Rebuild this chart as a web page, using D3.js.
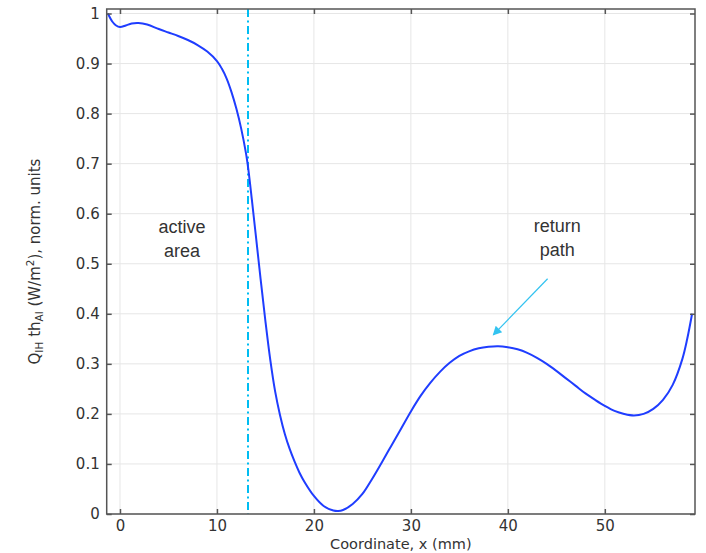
<!DOCTYPE html>
<html>
<head>
<meta charset="utf-8">
<script src="https://cdn.jsdelivr.net/npm/d3@7"></script>
<style>
  html, body { margin: 0; padding: 0; background: #fff; }
  svg { display: block; }
</style>
</head>
<body>
<svg id="chart" width="706" height="553"></svg>
<script>
// Normalised induction-heating profile along the coordinate x
const xValues = [-1.24, -0.8, -0.4, 0, 0.6, 1.2, 1.9, 2.8, 4, 5, 6, 7, 8, 9, 10, 10.5, 11, 11.5, 12, 12.5, 13, 13.24, 13.6,
  14.0, 14.5, 15.0, 15.5, 16.0, 16.5, 17.0, 17.5, 18.0, 18.5, 19, 20, 21, 22, 22.5, 23, 24, 25, 26, 27, 28, 29,
  30, 31, 32, 33, 34, 35, 36, 37, 38, 39, 40, 41, 42, 43, 44, 45, 46, 47, 48, 49, 50, 51, 52, 53, 54, 55, 56, 57, 58, 58.5, 59.0];
const qValues = [1.0, 0.984, 0.976, 0.973, 0.976, 0.98, 0.981, 0.978, 0.969, 0.962, 0.955, 0.947, 0.937, 0.924, 0.905, 0.89, 0.87, 0.843, 0.81, 0.77, 0.72, 0.688, 0.628,
  0.558, 0.47, 0.385, 0.308, 0.245, 0.198, 0.16, 0.13, 0.105, 0.083, 0.065, 0.036, 0.016, 0.007, 0.006, 0.008, 0.02, 0.04, 0.07, 0.103, 0.137, 0.171,
  0.205, 0.236, 0.262, 0.284, 0.302, 0.316, 0.325, 0.331, 0.334, 0.335, 0.333, 0.329, 0.322, 0.312, 0.3, 0.286, 0.271, 0.256, 0.241, 0.228, 0.216, 0.206, 0.2, 0.197, 0.2, 0.21, 0.228, 0.258, 0.31, 0.35, 0.4];

const xTicks = [0, 10, 20, 30, 40, 50];
const yTicks = [0, 0.1, 0.2, 0.3, 0.4, 0.5, 0.6, 0.7, 0.8, 0.9, 1];
const yTickLabels = ["0", "0.1", "0.2", "0.3", "0.4", "0.5", "0.6", "0.7", "0.8", "0.9", "1"];
const boundaryX = [13.2];           // edge of the active area
const annotations = [
  { lines: ["active", "area"], x: 6.4, y: 0.562 },
  { lines: ["return", "path"], x: 45.1, y: 0.564 }
];
const arrow = { from: [44.1, 0.47], to: [38.5, 0.358] };

const xDomain = [-1.37, 59.3];
const yDomain = [0, 1.009];

const margin = { left: 106.7, right: 11, top: 9, bottom: 39 };
const W = 706, H = 553;
const svg = d3.select("#chart");
const pw = W - margin.left - margin.right;
const ph = H - margin.top - margin.bottom;

const x = d3.scaleLinear().domain(xDomain).range([0, pw]);
const y = d3.scaleLinear().domain(yDomain).range([ph, 0]);

const g = svg.append("g").attr("transform", `translate(${margin.left},${margin.top})`);

// grid
g.append("g").selectAll("line").data(xTicks).join("line")
  .attr("x1", d => x(d)).attr("x2", d => x(d)).attr("y1", 0).attr("y2", ph)
  .attr("stroke", "#e6e6e6").attr("stroke-width", 1);
g.append("g").selectAll("line").data(yTicks).join("line")
  .attr("y1", d => y(d)).attr("y2", d => y(d)).attr("x1", 0).attr("x2", pw)
  .attr("stroke", "#e6e6e6").attr("stroke-width", 1);

// clip for data
svg.append("defs").append("clipPath").attr("id", "plotclip")
  .append("rect").attr("width", pw).attr("height", ph);

// boundary line (dash-dot)
g.append("g").attr("clip-path", "url(#plotclip)").selectAll("line").data(boundaryX).join("line")
  .attr("x1", d => x(d)).attr("x2", d => x(d)).attr("y1", 0).attr("y2", ph)
  .attr("stroke", "#00bdf2").attr("stroke-width", 2)
  .attr("stroke-dasharray", "8,3.5,2,3.5");

// data curve
const pts = xValues.map((v, i) => [v, qValues[i]]);
const line = d3.line().x(d => x(d[0])).y(d => y(d[1])).curve(d3.curveCatmullRom.alpha(0.5));
g.append("path").datum(pts).attr("clip-path", "url(#plotclip)")
  .attr("d", line).attr("fill", "none")
  .attr("stroke", "#1f3dff").attr("stroke-width", 2);

// axes
const axisColor = "#555";
const xAxis = g.append("g").attr("transform", `translate(0,${ph})`)
  .call(d3.axisBottom(x).tickValues(xTicks).tickSizeInner(-5).tickSizeOuter(0).tickPadding(6));
const xTop = g.append("g")
  .call(d3.axisTop(x).tickValues(xTicks).tickSizeInner(-5).tickSizeOuter(0).tickFormat(""));
const yAxis = g.append("g")
  .call(d3.axisLeft(y).tickValues(yTicks).tickFormat((d, i) => yTickLabels[i]).tickSizeInner(-5).tickSizeOuter(0).tickPadding(7));
const yRight = g.append("g").attr("transform", `translate(${pw},0)`)
  .call(d3.axisRight(y).tickValues(yTicks).tickSizeInner(-5).tickSizeOuter(0).tickFormat(""));

[xAxis, xTop, yAxis, yRight].forEach(a => {
  a.select(".domain").remove();
  a.selectAll(".tick line").attr("stroke", axisColor).attr("stroke-width", 1.5);
  a.selectAll("text").attr("fill", "#333").style("font-family", "DejaVu Sans, sans-serif").style("font-size", "15px");
});

// frame
g.append("rect").attr("width", pw).attr("height", ph)
  .attr("fill", "none").attr("stroke", axisColor).attr("stroke-width", 1.5);

// axis titles
svg.append("text").attr("x", margin.left + pw / 2).attr("y", 548.5)
  .attr("text-anchor", "middle").attr("fill", "#333")
  .style("font-family", "DejaVu Sans, sans-serif").style("font-size", "14.5px")
  .text("Coordinate, x (mm)");

const yt = svg.append("text")
  .attr("transform", `translate(40,${margin.top + ph / 2}) rotate(-90)`)
  .attr("text-anchor", "middle").attr("fill", "#333")
  .style("font-family", "DejaVu Sans, sans-serif").style("font-size", "15px");
yt.append("tspan").text("Q");
yt.append("tspan").attr("baseline-shift", "-25%").style("font-size", "10.5px").text("IH");
yt.append("tspan").text(" th");
yt.append("tspan").attr("baseline-shift", "-25%").style("font-size", "10.5px").text("Al");
yt.append("tspan").text(" (W/m");
yt.append("tspan").attr("baseline-shift", "super").style("font-size", "10.5px").text("2");
yt.append("tspan").text("), norm. units");

// annotations
annotations.forEach(a => {
  const t = g.append("text").attr("text-anchor", "middle").attr("fill", "#333")
    .style("font-family", "Liberation Sans, Arial, sans-serif").style("font-size", "18px");
  a.lines.forEach((l, i) => {
    t.append("tspan").attr("x", x(a.x)).attr("y", y(a.y) + i * 24).text(l);
  });
});

// arrow
const arrowColor = "#33c3f0";
svg.select("defs").append("marker").attr("id", "arrowhead")
  .attr("viewBox", "0 0 10 10").attr("refX", 9).attr("refY", 5)
  .attr("markerWidth", 11).attr("markerHeight", 9).attr("markerUnits", "userSpaceOnUse")
  .attr("orient", "auto")
  .append("path").attr("d", "M0,0 L10,5 L0,10 Z").attr("fill", arrowColor);
g.append("line")
  .attr("x1", x(arrow.from[0])).attr("y1", y(arrow.from[1]))
  .attr("x2", x(arrow.to[0])).attr("y2", y(arrow.to[1]))
  .attr("stroke", arrowColor).attr("stroke-width", 1.2)
  .attr("marker-end", "url(#arrowhead)");
</script>
</body>
</html>
